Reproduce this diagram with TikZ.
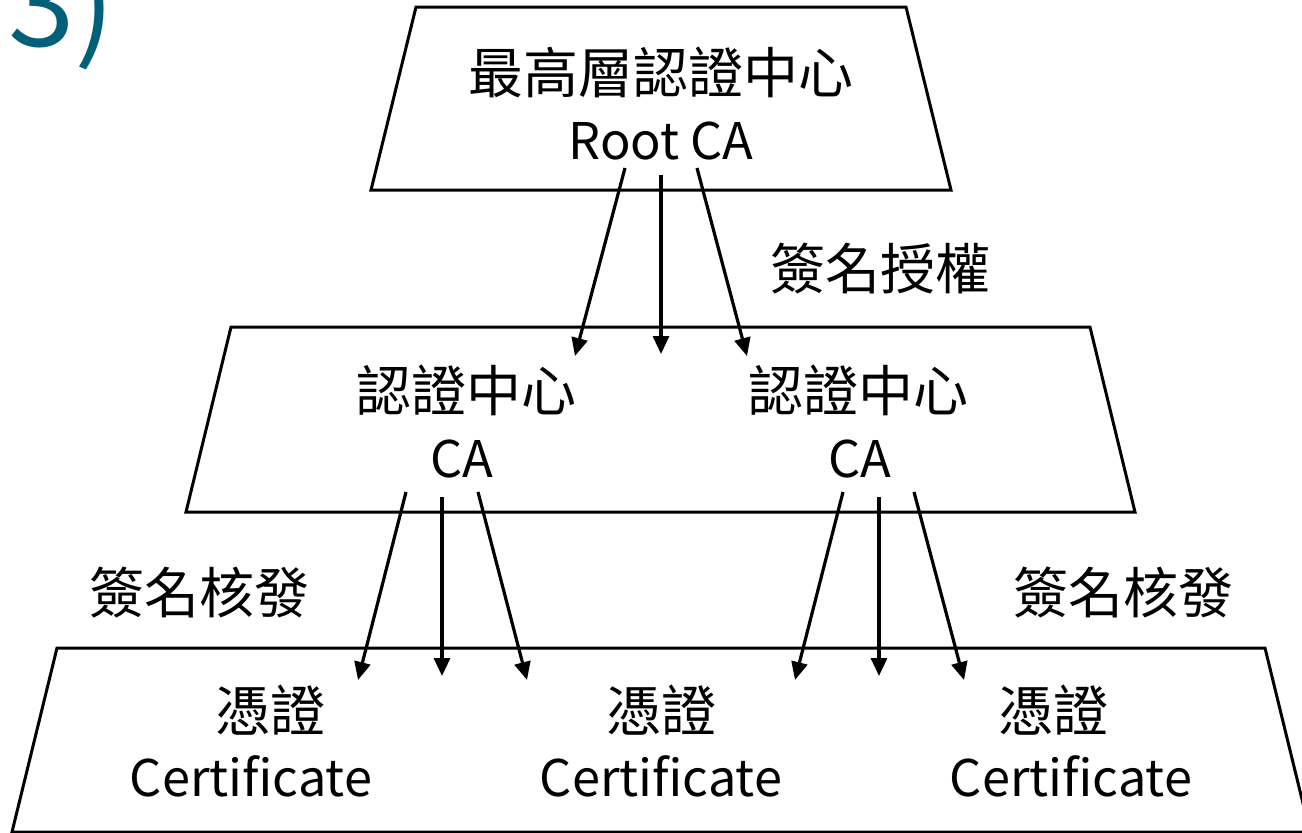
\documentclass[tikz,border=0pt]{standalone}
\usepackage{fontspec}
\setmainfont{Noto Sans CJK TC}
\usetikzlibrary{arrows.meta}
\definecolor{teal3}{HTML}{00607A}
\begin{document}
\begin{tikzpicture}[x=1pt,y=-1pt,
  box/.style={line width=3pt, line join=miter},
  txt/.style={anchor=base, inner sep=0pt, font=\fontsize{55}{66}\selectfont},
  lat/.style={anchor=base, inner sep=0pt, font=\fontsize{50.5}{60}\selectfont},
  arr/.style={line width=3.2pt, -{Triangle[length=18pt,width=16pt]}}]
\useasboundingbox (0,0) rectangle (1302,833);
\clip (0,0) rectangle (1302,833);
\node[anchor=base west, inner sep=0pt, text=teal3, font=\fontsize{120}{130}\selectfont] (three) at (8,46) {3)};
% trapezoids
\draw[box] (416,7) -- (906,7) -- (951,190) -- (371,190) -- cycle;
\draw[box] (231,327) -- (1090,327) -- (1135,512) -- (186,512) -- cycle;
\draw[box] (57,648) -- (1265,648) -- (1310,832) -- (12,832) -- cycle;
% texts
\node[txt] (root1) at (661,93) {最高層認證中心};
\node[lat] (root2) at (661,159) {Root CA};
\node[txt] (ca1a) at (466,411) {認證中心};
\node[lat] (ca1b) at (462,477) {CA};
\node[txt] (ca2a) at (858,411) {認證中心};
\node[lat] (ca2b) at (860,477) {CA};
\node[txt] (c1a) at (270,731) {憑證};
\node[lat] (c1b) at (251,796) {Certificate};
\node[txt] (c2a) at (661,731) {憑證};
\node[lat] (c2b) at (661,796) {Certificate};
\node[txt] (c3a) at (1053,731) {憑證};
\node[lat] (c3b) at (1071,796) {Certificate};
\node[txt] (lab1) at (880,289) {簽名授權};
\node[txt] (lab2) at (199,613) {簽名核發};
\node[txt] (lab3) at (1123,613) {簽名核發};
% arrow end points
\coordinate (r1) at (625,168); \coordinate (r2) at (661,175); \coordinate (r3) at (697,168);
\coordinate (m1) at (575,356); \coordinate (m2) at (661,354); \coordinate (m3) at (747,356);
\coordinate (a1) at (406,492); \coordinate (a2) at (442,497); \coordinate (a3) at (478,492);
\coordinate (b1) at (358,680); \coordinate (b2) at (442,676); \coordinate (b3) at (527,680);
\coordinate (d1) at (843,492); \coordinate (d2) at (879,497); \coordinate (d3) at (914,492);
\coordinate (e1) at (795,680); \coordinate (e2) at (879,676); \coordinate (e3) at (964,680);
\draw[arr] (r1) -- (m1);
\draw[arr] (r2) -- (m2);
\draw[arr] (r3) -- (m3);
\draw[arr] (a1) -- (b1);
\draw[arr] (a2) -- (b2);
\draw[arr] (a3) -- (b3);
\draw[arr] (d1) -- (e1);
\draw[arr] (d2) -- (e2);
\draw[arr] (d3) -- (e3);
\end{tikzpicture}
\end{document}
